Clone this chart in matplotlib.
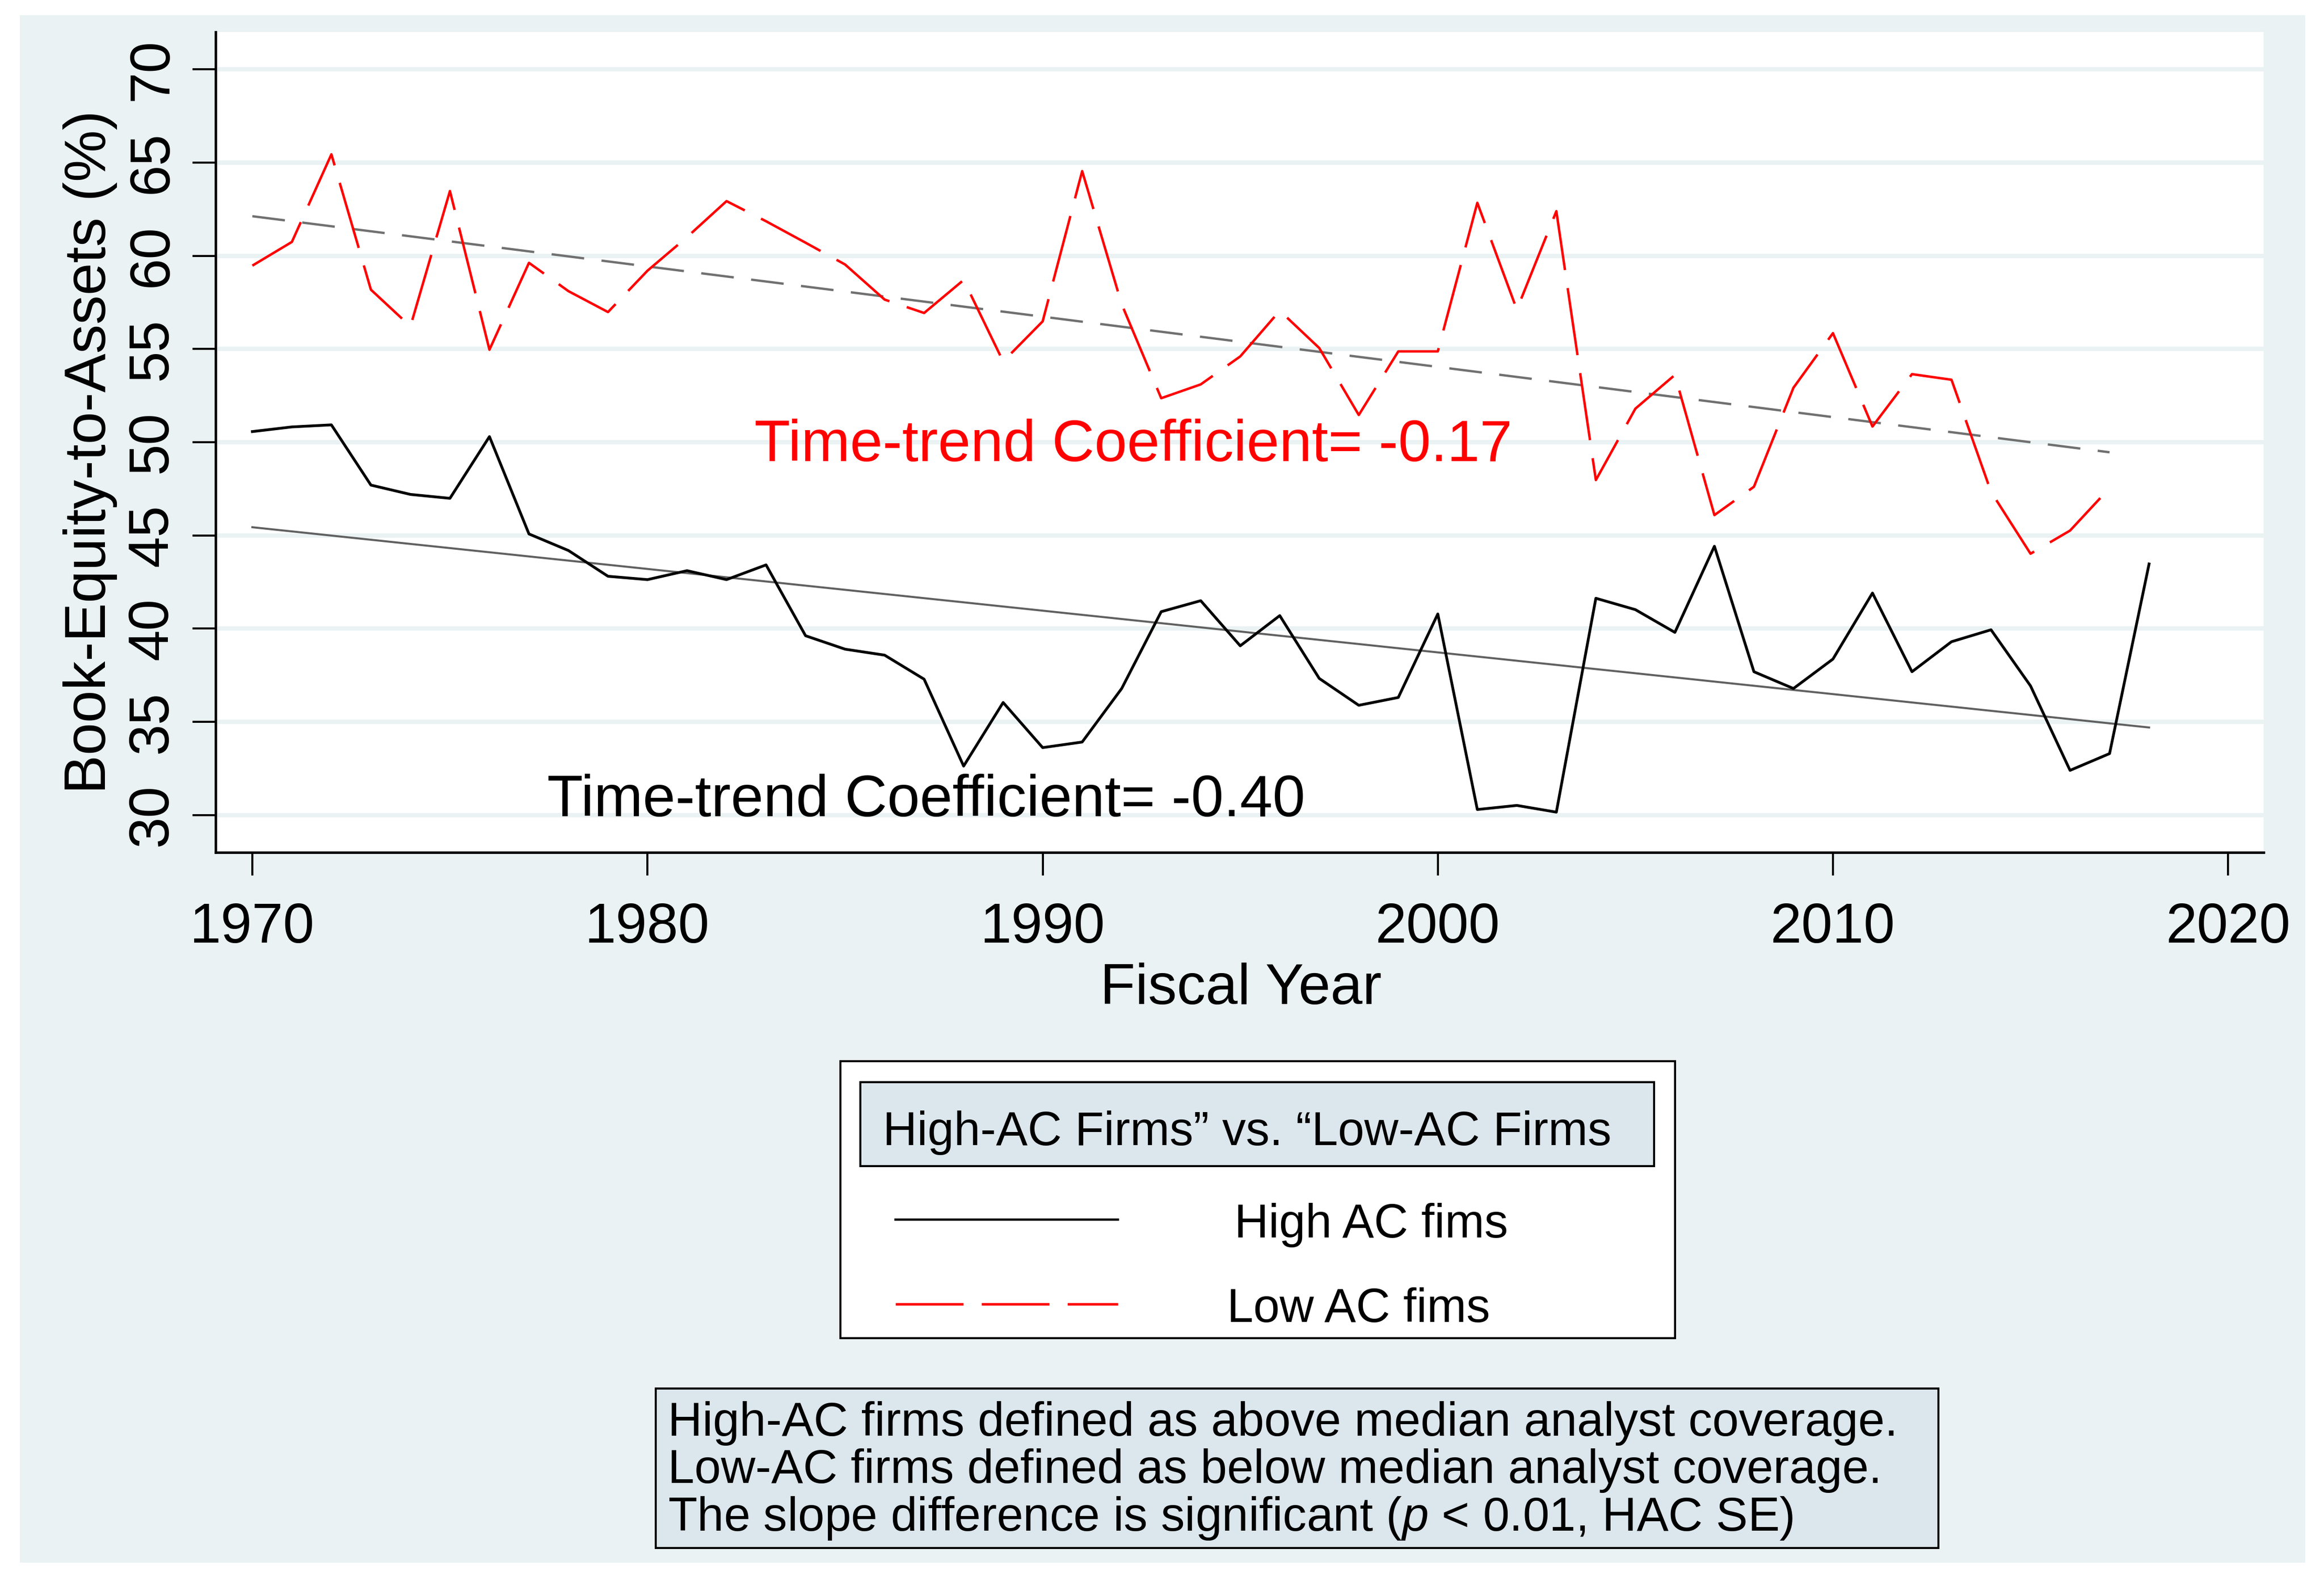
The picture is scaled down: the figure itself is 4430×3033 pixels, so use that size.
import numpy as np
import matplotlib
matplotlib.use('Agg')
import matplotlib.pyplot as plt
from matplotlib.patches import Rectangle
from matplotlib.lines import Line2D

plt.rcParams['font.family'] = ['Liberation Sans', 'DejaVu Sans']
plt.rcParams['mathtext.fontset'] = 'custom'
plt.rcParams['mathtext.rm'] = 'Liberation Sans'
plt.rcParams['mathtext.it'] = 'Liberation Sans:italic'
plt.rcParams['lines.scale_dashes'] = False

# ---- data ----
years_high = list(range(1970, 2019))
high_ac = [50.57, 50.82, 50.93, 47.70, 47.20, 46.99, 50.30, 45.08, 44.19, 42.81,
           42.63, 43.11, 42.63, 43.42, 39.62, 38.90, 38.58, 37.29, 32.63, 36.04,
           33.62, 33.92, 36.79, 40.91, 41.50, 39.08, 40.70, 37.33, 35.89, 36.31,
           40.79, 30.30, 30.52, 30.16, 41.63, 41.02, 39.80, 44.42, 37.69, 36.79,
           38.37, 41.91, 37.69, 39.30, 39.94, 36.93, 32.40, 33.30, 43.47]
years_low = list(range(1970, 2018))
low_ac = [59.47, 60.74, 65.44, 58.18, 56.21, 63.47, 54.96, 59.62, 58.10, 56.98,
          59.20, 61.00, 62.93, 61.85, 60.70, 59.53, 57.65, 56.93, 58.70, 54.33,
          56.48, 64.54, 57.40, 52.36, 53.10, 54.60, 57.05, 55.05, 51.46, 54.87,
          54.87, 62.84, 57.11, 62.39, 47.97, 51.80, 53.61, 46.09, 47.61, 52.92,
          55.85, 50.84, 53.65, 53.35, 47.34, 44.02, 45.26, 47.54]
trend_high_x = [1970, 2018]
trend_high_y = [45.44, 34.70]
trend_low_x = [1970, 2017]
trend_low_y = [62.12, 49.46]

yticks = [30, 35, 40, 45, 50, 55, 60, 65, 70]
xticks = [1970, 1980, 1990, 2000, 2010, 2020]

BG = '#EAF2F3'
BOX = '#DCE6ED'

W, H = 4430, 3033
def fx(px): return px / W
def fy(py): return 1 - py / H

fig = plt.figure(figsize=(44.3, 30.33), dpi=100)
fig.patch.set_facecolor('white')
fig.patches.append(Rectangle((fx(38), fy(2979)), fx(4394 - 38), (2979 - 29) / H,
                             transform=fig.transFigure, facecolor=BG, edgecolor='none', zorder=-5))

ax = fig.add_axes([fx(411), fy(1625), fx(4315 - 411), (1625 - 61) / H])
ax.set_facecolor('white')
ax.set_xlim(1969.07, 2020.9)
ax.set_ylim(28, 72)
ax.set_yticks(yticks)
ax.set_xticks(xticks)
ax.yaxis.grid(True, color=BG, lw=6)
ax.set_axisbelow(True)
for s in ['top', 'right']:
    ax.spines[s].set_visible(False)
for s in ['left', 'bottom']:
    ax.spines[s].set_linewidth(3.4)
ax.tick_params(axis='both', direction='out', length=32, width=2.8, labelsize=77)
ax.tick_params(axis='x', pad=36)
ax.tick_params(axis='y', pad=19, labelrotation=90)
for lbl in ax.get_yticklabels():
    lbl.set_va('center')

ax.plot(trend_low_x, trend_low_y, color='#707070', lw=3.2, dashes=(45, 24), zorder=3)
ax.plot(trend_high_x, trend_high_y, color='#606060', lw=2.8, zorder=3)
ax.plot(years_high, high_ac, color='black', lw=3.8, zorder=4)
ax.plot(years_low, low_ac, color='#FF0000', lw=3.4, dashes=(93, 25), zorder=4)

ax.text(1982.7, 49.0, 'Time-trend Coefficient= -0.17', color='#FF0000', fontsize=80.5, va='baseline')
ax.text(1977.46, 29.94, 'Time-trend Coefficient= -0.40', color='black', fontsize=80.5, va='baseline')

fig.text(fx(172), fy(862), 'Book-Equity-to-Assets (%)', rotation=90, ha='center', va='center', fontsize=80)
fig.text(fx(2365), fy(1914), 'Fiscal Year', ha='center', va='baseline', fontsize=79)

# ---- legend box ----
fig.patches.append(Rectangle((fx(1602), fy(2551)), fx(3193 - 1602), (2551 - 2023) / H,
                             transform=fig.transFigure, facecolor='white', edgecolor='black', lw=2.8, zorder=2))
fig.patches.append(Rectangle((fx(1640), fy(2223)), fx(3153 - 1640), (2223 - 2063) / H,
                             transform=fig.transFigure, facecolor=BOX, edgecolor='black', lw=2.8, zorder=3))
fig.text(fx(1683), fy(2183), 'High-AC Firms\u201d vs. \u201cLow-AC Firms', fontsize=65, va='baseline', zorder=4)
fig.lines.append(Line2D([fx(1707), fx(2131)], [fy(2325), fy(2325)], transform=fig.transFigure,
                        color='black', lw=3.2, zorder=4))
fig.lines.append(Line2D([fx(1707), fx(2131)], [fy(2486), fy(2486)], transform=fig.transFigure,
                        color='#FF0000', lw=3.4, dashes=(93, 25), zorder=4))
fig.text(fx(2353), fy(2359), 'High AC fims', fontsize=65, va='baseline', zorder=4)
fig.text(fx(2339), fy(2520), 'Low AC fims', fontsize=65, va='baseline', zorder=4)

# ---- note box ----
fig.patches.append(Rectangle((fx(1250), fy(2951)), fx(3695 - 1250), (2951 - 2647) / H,
                             transform=fig.transFigure, facecolor=BOX, edgecolor='black', lw=2.8, zorder=2))
notes = ['High-AC firms defined as above median analyst coverage.',
         'Low-AC firms defined as below median analyst coverage.',
         'The slope difference is significant ($\\mathit{p}$ < 0.01, HAC SE)']
for i, t in enumerate(notes):
    fig.text(fx(1273), fy(2737 + 90.5 * i), t, fontsize=65.4, va='baseline', zorder=4)

fig.savefig('out.png', dpi=100)
